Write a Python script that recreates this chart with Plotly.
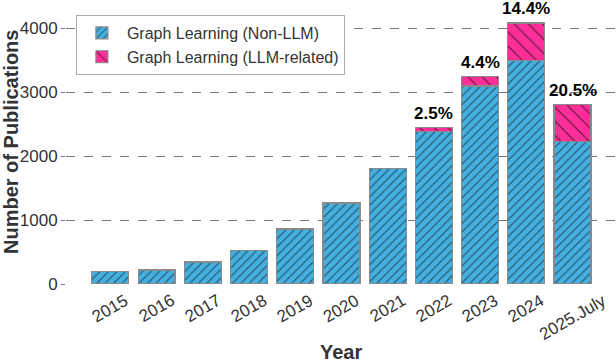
import plotly.graph_objects as go

years = ["2015", "2016", "2017", "2018", "2019", "2020", "2021", "2022", "2023", "2024", "2025.July"]
non_llm = [190, 220, 345, 520, 860, 1255, 1800, 2380, 3097, 3495, 2230]
llm = [0, 0, 0, 0, 0, 10, 5, 61, 143, 585, 572]
pct_labels = ["", "", "", "", "", "", "", "2.5%", "4.4%", "14.4%", "20.5%"]

FONT = "Liberation Sans, Arial, sans-serif"
BLUE = "#45AFE0"
PINK = "#FF2E98"

fig = go.Figure()
fig.add_trace(go.Bar(
    x=years, y=non_llm, name="Graph Learning (Non-LLM)", width=0.8,
    marker=dict(color=BLUE, line=dict(color="#8a8a8a", width=1.2),
                pattern=dict(shape="/", fgcolor="#111111", bgcolor=BLUE, size=6, solidity=0.22)),
))
fig.add_trace(go.Bar(
    x=years, y=llm, name="Graph Learning (LLM-related)", width=0.8,
    marker=dict(color=PINK, line=dict(color="#8a8a8a", width=1.2),
                pattern=dict(shape="\\", fgcolor="#111111", bgcolor=PINK, size=10, solidity=0.16)),
))

for i, (a, b, lab) in enumerate(zip(non_llm, llm, pct_labels)):
    if lab:
        fig.add_annotation(x=i, y=a + b, xref="x", yref="y", text="<b>" + lab + "</b>",
                           showarrow=False, yanchor="bottom", yshift=3,
                           font=dict(family=FONT, size=17, color="#000000"))

# rotated category labels, centred under each bar
for i, yr in enumerate(years):
    fig.add_annotation(x=i, y=0, xref="x", yref="paper", text=yr, showarrow=False,
                       textangle=-30, xanchor="center", yanchor="top", yshift=-4,
                       font=dict(family=FONT, size=17, color="#333333"))

# axis titles
fig.add_annotation(x=0.5, y=0, xref="paper", yref="paper", yshift=-68, yanchor="middle",
                   text="<b>Year</b>", showarrow=False,
                   font=dict(family=FONT, size=20, color="#333333"))
fig.add_annotation(x=0, y=0.5, xref="paper", yref="paper", xshift=-55, xanchor="center",
                   textangle=-90, text="<b>Number of Publications</b>", showarrow=False,
                   font=dict(family=FONT, size=20, color="#333333"))

fig.update_layout(
    barmode="stack",
    width=616, height=362,
    margin=dict(l=66, r=0, t=0, b=78, autoexpand=False),
    paper_bgcolor="white", plot_bgcolor="white",
    font=dict(family=FONT, color="#333333"),
    showlegend=True,
    legend=dict(x=0.018, y=0.947, xanchor="left", yanchor="top",
                traceorder="normal",
                bgcolor="white", bordercolor="#aaaaaa", borderwidth=1,
                font=dict(family=FONT, size=16, color="#333333"),
                itemwidth=40, tracegroupgap=0),
    xaxis=dict(
        type="category",
        range=[-0.96, 10.94], showticklabels=False, showgrid=False, showline=False,
        zeroline=False, automargin=False,
    ),
    yaxis=dict(
        range=[0, 4440], tickvals=[0, 1000, 2000, 3000, 4000],
        showgrid=True, gridcolor="#777777", griddash="dash", gridwidth=1,
        zeroline=False, showline=False, automargin=False,
        ticks="outside", ticklen=4, tickcolor="#777777",
        tickfont=dict(family=FONT, size=17, color="#333333"),
    ),
    bargap=0.2,
)

fig.write_html("out.html", config={"displayModeBar": False},
               post_script="document.body.style.margin='0px';")
